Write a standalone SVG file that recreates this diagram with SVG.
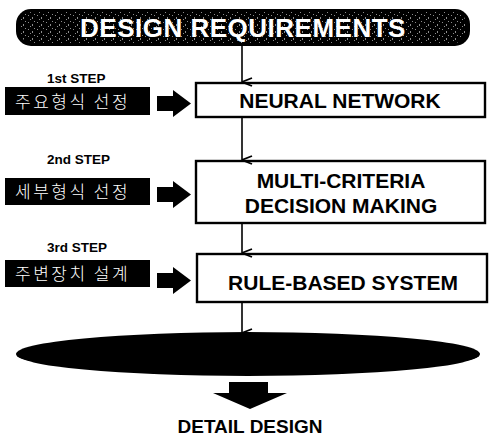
<svg xmlns="http://www.w3.org/2000/svg" width="489" height="438" viewBox="0 0 489 438">
  <defs>
    <style>
      .lbl { font-family: "Liberation Sans", Arial, sans-serif; font-weight: bold; fill: #000; }
      .step { font-size: 13.5px; }
      .box { fill: #fff; stroke: #000; stroke-width: 2.4; }
      .kbox { fill: #000; }
      .ktxt { font-family: "Noto Sans CJK KR", sans-serif; font-weight: 300; font-size: 17px; fill: #fff; letter-spacing: 2.5px; }
      .main { font-size: 21px; text-anchor: middle; }
      .link { fill: none; stroke: #000; stroke-width: 1.6; }
    </style>
    <marker id="arrow" viewBox="0 0 10 12" refX="5" refY="12" markerWidth="10" markerHeight="12" markerUnits="userSpaceOnUse" orient="auto-start-reverse">
      <path d="M1,2 L5,12 L9,2" fill="none" stroke="#000" stroke-width="1.8"/>
    </marker>
    <!-- speckle texture for the title banner -->
    <pattern id="speckle" width="9" height="7" patternUnits="userSpaceOnUse">
      <rect x="1" y="1" width="1" height="1" fill="#fff"/>
      <rect x="5" y="3" width="1" height="2" fill="#fff"/>
      <rect x="3" y="5" width="1" height="1" fill="#fff"/>
      <rect x="7" y="0" width="1" height="1" fill="#fff"/>
    </pattern>
  </defs>

  <!-- title banner -->
  <g id="design-requirements">
    <rect x="16" y="9" width="454" height="37" rx="15" fill="#000"/>
    <rect x="20" y="12" width="446" height="31" rx="12" fill="url(#speckle)" opacity="0.55"/>
    <text x="243" y="37" class="lbl" font-size="26" text-anchor="middle" style="fill:#fff" letter-spacing="0.5">DESIGN REQUIREMENTS</text>
  </g>

  <!-- step 1 -->
  <g id="step1">
    <text x="47" y="83" class="lbl step">1st STEP</text>
    <rect x="5" y="87" width="145" height="28" class="kbox"/>
    <text x="15" y="108" class="ktxt">주요형식 선정</text>
    <path d="M157,96 H173 V90 L191,103.5 L173,117 V111 H157 Z" fill="#000"/>
  </g>
  <g id="neural-network">
    <rect x="196" y="83" width="289" height="34" class="box"/>
    <text x="340" y="108" class="lbl main">NEURAL NETWORK</text>
  </g>

  <!-- step 2 -->
  <g id="step2">
    <text x="47" y="164" class="lbl step">2nd STEP</text>
    <rect x="5" y="178" width="145" height="27" class="kbox"/>
    <text x="15" y="198" class="ktxt">세부형식 선정</text>
    <path d="M157,187 H173 V181 L191,194.5 L173,208 V202 H157 Z" fill="#000"/>
  </g>
  <g id="multi-criteria">
    <rect x="196" y="161" width="289" height="62" class="box"/>
    <text x="341" y="188" class="lbl main">MULTI-CRITERIA</text>
    <text x="341" y="213" class="lbl main">DECISION MAKING</text>
  </g>

  <!-- step 3 -->
  <g id="step3">
    <text x="47" y="252" class="lbl step">3rd STEP</text>
    <rect x="5" y="260" width="145" height="27" class="kbox"/>
    <text x="15" y="280" class="ktxt">주변장치 설계</text>
    <path d="M157,273 H173 V267 L191,280.5 L173,294 V288 H157 Z" fill="#000"/>
  </g>
  <g id="rule-based">
    <rect x="197" y="254" width="290" height="48" class="box"/>
    <text x="343" y="290" class="lbl main">RULE-BASED SYSTEM</text>
  </g>

  <!-- outcome -->
  <g id="ellipse-stage">
    <ellipse cx="248" cy="354" rx="232" ry="22" fill="#000"/>
  </g>
  <g id="detail-design">
    <path d="M229,382 H268 V393 H287 L250,409 L213,393 H229 Z" fill="#000"/>
    <text x="250" y="433" class="lbl" font-size="19" text-anchor="middle">DETAIL DESIGN</text>
  </g>

  <!-- connectors -->
  <g id="connectors">
    <line x1="242" y1="46" x2="242" y2="82" class="link" marker-end="url(#arrow)"/>
    <line x1="242" y1="118" x2="242" y2="160" class="link" marker-end="url(#arrow)"/>
    <line x1="242" y1="224" x2="242" y2="253" class="link" marker-end="url(#arrow)"/>
    <line x1="242" y1="303" x2="242" y2="333" class="link" marker-end="url(#arrow)"/>
  </g>
</svg>
